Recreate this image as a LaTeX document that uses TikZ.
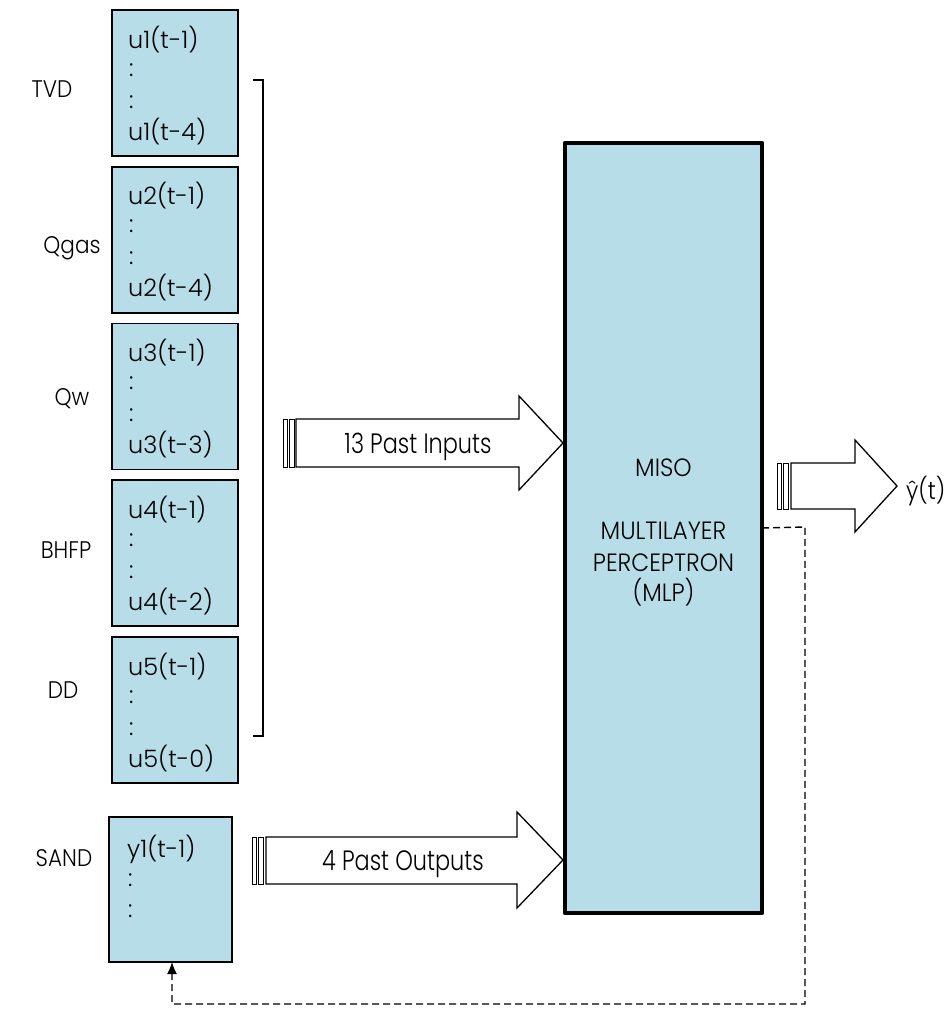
\documentclass[tikz,border=0pt]{standalone}
\usepackage{fontspec}
\setmainfont{Poppins}[UprightFont=* Light]
\newfontfamily\fLbl{Poppins}[UprightFont=* Light, FakeStretch=0.9]
\newfontfamily\fMlp{Poppins}[UprightFont=* Light, FakeStretch=0.93]
\newfontfamily\fArr{Poppins}[UprightFont=* Light, FakeStretch=0.8]
\usetikzlibrary{arrows.meta}
\definecolor{boxblue}{RGB}{183,221,232}
\begin{document}
\begin{tikzpicture}[x=1pt,y=-1pt,
  inbox/.style={draw=black, line width=1.6pt, fill=boxblue, outer sep=0pt, inner sep=0pt},
  mlpbox/.style={draw=black, line width=4.5pt, fill=boxblue, outer sep=0pt, inner sep=0pt, line join=round},
  btext/.style={font=\fontsize{24}{28}\selectfont, inner sep=0pt, anchor=base west},
  lbl/.style={font=\fLbl\fontsize{24}{28}\selectfont, inner sep=0pt, anchor=base},
  mtext/.style={font=\fMlp\fontsize{25}{29}\selectfont, inner sep=0pt, anchor=base},
  atext/.style={font=\fArr\fontsize{28}{32}\selectfont, inner sep=0pt, anchor=base},
  blk/.style={draw=black, line width=1.3pt, fill=white, line join=miter},
  stripe/.style={draw=black, line width=0.9pt, fill=white},
  brk/.style={draw=black, line width=1.6pt},
  feedback/.style={draw=black, line width=1.4pt, dash pattern=on 7pt off 4pt, -{Latex[length=12pt,width=10pt]}}
]
\useasboundingbox (0,0) rectangle (952,1009);

% input boxes
\foreach \n/\t/\a/\b in {1/10/u1(t-1)/u1(t-4), 2/166.75/u2(t-1)/u2(t-4), 3/323.5/u3(t-1)/u3(t-3), 4/480.25/u4(t-1)/u4(t-2), 5/637/u5(t-1)/u5(t-0)}{
  \node[inbox, minimum width=126, minimum height=146, anchor=north west] (box\n) at (112,\t) {};
  \node[btext] (box\n a) at ([xshift=16, yshift=-38]box\n.north west) {\a};
  \node[btext] (box\n c) at ([xshift=17, yshift=-66]box\n.north west) {:};
  \node[btext] (box\n d) at ([xshift=17, yshift=-98]box\n.north west) {:};
  \node[btext] (box\n b) at ([xshift=16, yshift=-130]box\n.north west) {\b};
}

% SAND box
\node[inbox, minimum width=123, minimum height=145, anchor=north west] (sbox) at (109,817) {};
\node[btext] (sboxa) at ([xshift=18, yshift=-40]sbox.north west) {y1(t-1)};
\node[btext] (sboxc) at ([xshift=19, yshift=-69]sbox.north west) {:};
\node[btext] (sboxd) at ([xshift=19, yshift=-100]sbox.north west) {:};

% labels
\node[lbl] (lTVD) at (52,97) {TVD};
\node[lbl] (lQgas) at (72,253) {Qgas};
\node[lbl] (lQw) at (72,405) {Qw};
\node[lbl] (lBHFP) at (66,558) {BHFP};
\node[lbl] (lDD) at (63,698) {DD};
\node[lbl] (lSAND) at (64,866) {SAND};

% bracket
\draw[brk] (253,80) -- (263,80) -- (263,736) -- (253,736);

% MLP
\node[mlpbox, minimum width=197, minimum height=770] (mlp) at (663.5,528) {};
\node[mtext] (m1) at (663.5,476) {MISO};
\node[mtext] (m2) at (663.5,539) {MULTILAYER};
\node[mtext] (m3) at (663.5,571) {PERCEPTRON};
\node[mtext] (m4) at (663.5,601) {(MLP)};

% 13 Past Inputs arrow
\draw[stripe] (283,419) rectangle (287,467);
\draw[stripe] (289,419) rectangle (294,467);
\draw[blk] (296,419) -- (519,419) -- (519,396) -- (563,443) -- (519,490) -- (519,467) -- (296,467) -- cycle;
\node[atext] (t13) at (418,453) {13 Past Inputs};

% 4 Past Outputs arrow
\draw[stripe] (252,837) rectangle (256,884);
\draw[stripe] (258,837) rectangle (263,884);
\draw[blk] (266,837) -- (517,837) -- (517,812) -- (563,860) -- (517,908) -- (517,884) -- (266,884) -- cycle;
\node[atext] (t4) at (403,870) {4 Past Outputs};

% output arrow
\draw[stripe] (777,463) rectangle (781,509);
\draw[stripe] (783,463) rectangle (788,509);
\draw[blk] (791,463) -- (855,463) -- (855,440) -- (897,486) -- (855,532) -- (855,509) -- (791,509) -- cycle;
\node[btext, font=\fLbl\fontsize{25}{29}\selectfont] (yhat) at (906,499) {ŷ(t)};

% feedback
\coordinate (fbA) at (805,527);
\coordinate (fbB) at (805,1004);
\coordinate (fbC) at (172,1004);
\draw[feedback] (mlp.east) -- (fbA) -- (fbB) -- (fbC) -- (fbC |- sbox.south);
\end{tikzpicture}
\end{document}
